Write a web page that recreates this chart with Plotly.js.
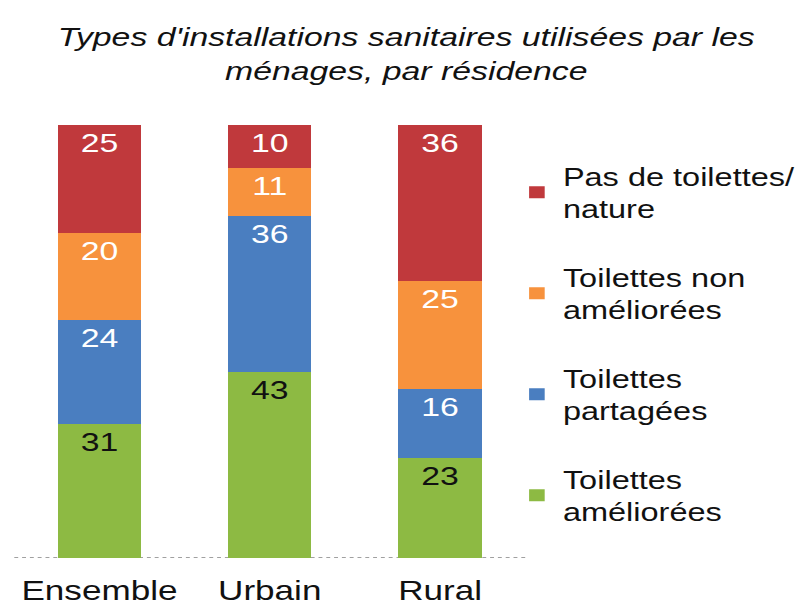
<!DOCTYPE html>
<html><head><meta charset="utf-8">
<script src="https://cdn.plot.ly/plotly-3.0.1.min.js"></script>
<style>
body{margin:0;background:#fff;overflow:hidden}
#wrap{width:812px;height:614px;overflow:hidden}
#c{width:625px;height:614px;transform:scaleX(1.3);transform-origin:0 0}
</style>
</head><body><div id="wrap"><div id="c"></div></div>
<script>
const categories = ["Ensemble", "Urbain", "Rural"];
const seriesNames = ["Toilettes<br>améliorées", "Toilettes<br>partagées", "Toilettes non<br>améliorées", "Pas de toilettes/<br>nature"];
const ameliorees = [31, 43, 23];
const partagees = [24, 36, 16];
const nonAmeliorees = [20, 11, 25];
const pasDeToilettes = [25, 10, 36];
const colors = ["#8dba43", "#4a7ec0", "#f7923d", "#c0393c"];
const textColors = ["#111", "#fff", "#fff", "#fff"];
const values = [ameliorees, partagees, nonAmeliorees, pasDeToilettes];

const traces = values.map((v, i) => ({
  type: "bar", x: categories, y: v, name: seriesNames[i], legendgroup: "g" + i,
  legendrank: 1000 - i,
  text: v.map(String), textposition: "inside", insidetextanchor: "end",
  textfont: {family: "Liberation Sans, Arial, sans-serif", size: 26, color: textColors[i]},
  marker: {color: colors[i], line: {width: 0}},
  hoverinfo: "none"
}));

const layout = {
  width: 625, height: 614,
  margin: {l: 11, r: 221, t: 125, b: 56, autoexpand: false},
  paper_bgcolor: "#fff", plot_bgcolor: "#fff",
  barmode: "stack", bargap: 0.51,
  font: {family: "Liberation Sans, Arial, sans-serif", color: "#111"},
  title: {text: "<i>Types d'installations sanitaires utilisées par les<br>ménages, par résidence</i>",
    font: {size: 26, color: "#111"}, x: 0.5, xanchor: "center", xref: "container", y: 0.925, yanchor: "middle"},
  xaxis: {showgrid: false, zeroline: false, showline: false, ticks: "",
    tickfont: {size: 27, color: "#111"}, ticklabelstandoff: 14, fixedrange: true},
  yaxis: {range: [0, 100], visible: false, fixedrange: true},
  legend: {x: 0.972, y: 0.935, xanchor: "left", yanchor: "top", traceorder: "grouped",
    font: {size: 25, color: "#111"}, tracegroupgap: 33, itemwidth: 30, bgcolor: "rgba(0,0,0,0)"},
  shapes: [{type: "line", xref: "paper", yref: "y", x0: 0, x1: 1, y0: 0, y1: 0,
    line: {color: "#a0a0a0", width: 2, dash: "dot"}, layer: "below"}],
  showlegend: true
};
Plotly.newPlot("c", traces, layout, {displayModeBar: false, staticPlot: true});
</script></body></html>
